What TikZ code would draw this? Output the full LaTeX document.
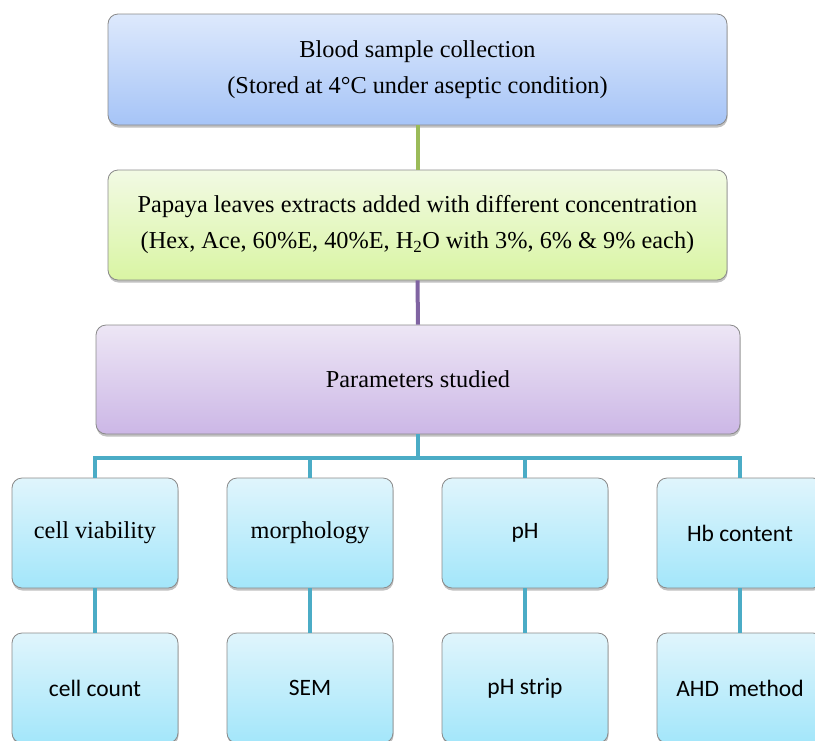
\documentclass[tikz,border=0pt]{standalone}
\usepackage{fontspec}
\setmainfont{Liberation Serif}
\newfontfamily\calfont{Carlito}
\usetikzlibrary{shadows}
\definecolor{lnGreen}{HTML}{9BBB59}
\definecolor{lnPurple}{HTML}{8064A2}
\definecolor{lnBlue}{HTML}{4BACC6}
\definecolor{bdGray}{HTML}{8A8A8A}
\newcommand\sansbig{\calfont\fontsize{23.5}{30}\selectfont}
\tikzset{
  x=1pt, y=1pt,
  boxbase/.style={draw=bdGray, line width=0.8pt, rounded corners=10pt, align=center,
    font=\fontsize{24.3}{36}\selectfont, inner sep=0pt,
    drop shadow={shadow xshift=0.5pt, shadow yshift=-2.5pt, opacity=0.35, fill=black!70}},
  bluebig/.style={boxbase, top color={rgb,255:red,221;green,233;blue,252}, bottom color={rgb,255:red,166;green,196;blue,247},
    minimum width=619pt, minimum height=111pt},
  greenbig/.style={boxbase, top color={rgb,255:red,242;green,250;blue,228}, bottom color={rgb,255:red,217;green,245;blue,163},
    minimum width=619pt, minimum height=110pt},
  purplebig/.style={boxbase, top color={rgb,255:red,237;green,230;blue,245}, bottom color={rgb,255:red,204;green,183;blue,230},
    minimum width=644pt, minimum height=109pt},
  leafbox/.style={boxbase, top color={rgb,255:red,224;green,245;blue,252}, bottom color={rgb,255:red,163;green,230;blue,250},
    minimum width=166pt, minimum height=110pt},
  conn/.style={line width=4pt},
}
\begin{document}
\begin{tikzpicture}
\useasboundingbox (0,0) rectangle (815,-740);
\node[bluebig] (top) at (417.5,-69.5) {Blood sample collection\\(Stored at 4°C under aseptic condition)};
\node[greenbig] (green) at (417.5,-225) {Papaya leaves extracts added with different concentration\\(Hex, Ace, 60\%E, 40\%E, H\textsubscript{2}O with 3\%, 6\% \& 9\% each)};
\node[purplebig] (params) at (418,-379.5) {Parameters studied};
\node[leafbox] (ra) at (95,-533) {cell viability};
\node[leafbox] (rb) at (310,-533) {morphology};
\node[leafbox] (rc) at (525,-533) {\sansbig pH};
\node[leafbox] (rd) at (740,-533) {\sansbig Hb content};
\node[leafbox] (sa) at (95,-688) {\sansbig cell count};
\node[leafbox] (sb) at (310,-688) {\sansbig SEM};
\node[leafbox] (sc) at (525,-688) {\sansbig pH strip};
\node[leafbox] (sd) at (740,-688) {\sansbig AHD\, method};
\coordinate (bus) at (418,-458);
\draw[conn, lnGreen] (top.south) -- (green.north);
\draw[conn, lnPurple] (green.south) -- (params.north);
\draw[conn, lnBlue] (params.south) -- (bus);
\draw[conn, lnBlue, line join=miter] (ra.north) |- (bus) -| (rd.north);
\draw[conn, lnBlue] (rb.north) -- (rb.north |- bus);
\draw[conn, lnBlue] (rc.north) -- (rc.north |- bus);
\draw[conn, lnBlue] (ra.south) -- (sa.north);
\draw[conn, lnBlue] (rb.south) -- (sb.north);
\draw[conn, lnBlue] (rc.south) -- (sc.north);
\draw[conn, lnBlue] (rd.south) -- (sd.north);
\end{tikzpicture}
\end{document}
